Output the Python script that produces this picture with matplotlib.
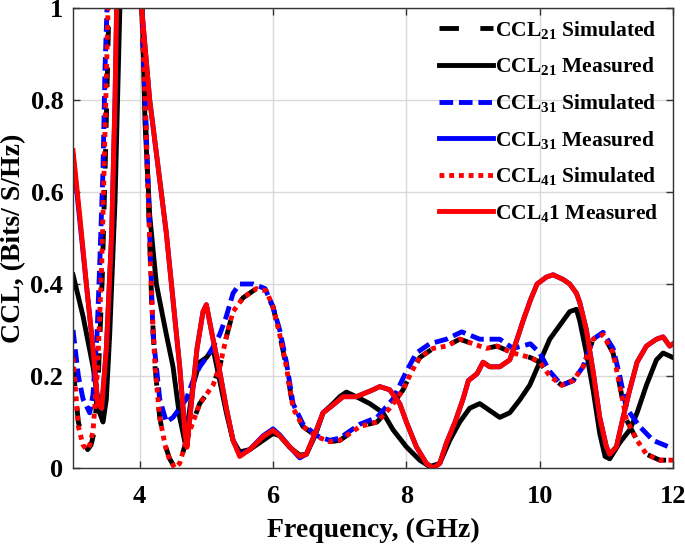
import matplotlib
matplotlib.use("Agg")
import matplotlib.pyplot as plt

# CCL21 simulated (black dashed)
f_s21 = [3.0, 3.08, 3.15, 3.22, 3.27, 3.32, 3.38, 3.44, 3.49, 3.53, 3.57, 3.7, 3.9, 4.0, 4.03, 4.08,
         4.13, 4.18, 4.23, 4.3, 4.38, 4.45, 4.53, 4.6, 4.7, 4.8, 4.9, 5.1, 5.2, 5.3, 5.4, 5.55, 5.75,
         5.9, 6.0, 6.1, 6.2, 6.3, 6.45, 6.66, 6.85, 7.0, 7.3, 7.56, 7.75, 7.95, 8.08, 8.2, 8.4, 8.6,
         8.8, 9.0, 9.2, 9.36, 9.6, 9.86, 10.0, 10.15, 10.33, 10.5, 10.65, 10.8, 10.95, 11.1, 11.2,
         11.3, 11.46, 11.6, 11.8, 12.0]
c_s21 = [0.22, 0.1, 0.06, 0.04, 0.05, 0.08, 0.2, 0.42, 0.7, 0.95, 1.2, 1.5, 1.5, 1.2, 1.0, 0.8,
         0.58, 0.36, 0.22, 0.11, 0.05, 0.02, 0.0, 0.01, 0.06, 0.1, 0.14, 0.18, 0.22, 0.285, 0.34,
         0.37, 0.39, 0.38, 0.35, 0.29, 0.22, 0.13, 0.09, 0.068, 0.057, 0.06, 0.09, 0.1, 0.13, 0.17,
         0.21, 0.24, 0.26, 0.265, 0.28, 0.27, 0.26, 0.265, 0.25, 0.24, 0.23, 0.2, 0.18, 0.19, 0.22,
         0.28, 0.29, 0.25, 0.18, 0.105, 0.06, 0.03, 0.017, 0.017]

# CCL21 measured (black solid)
f_m21 = [3.0, 3.15, 3.3, 3.4, 3.45, 3.5, 3.55, 3.63, 3.68, 3.72, 3.8, 3.95, 4.02, 4.08, 4.15, 4.25,
         4.4, 4.5, 4.6, 4.68, 4.8, 4.9, 5.0, 5.1, 5.2, 5.3, 5.4, 5.5, 5.65, 5.8, 6.0, 6.1, 6.25,
         6.4, 6.5, 6.63, 6.75, 6.9, 7.0, 7.1, 7.25, 7.45, 7.65, 7.8, 8.0, 8.2, 8.35, 8.5, 8.65, 8.8,
         8.95, 9.1, 9.25, 9.4, 9.55, 9.7, 9.85, 10.0, 10.15, 10.3, 10.45, 10.55, 10.6, 10.7, 10.8,
         10.9, 10.98, 11.05, 11.2, 11.35, 11.46, 11.6, 11.75, 11.85, 12.0]
c_m21 = [0.42, 0.33, 0.22, 0.12, 0.1, 0.15, 0.29, 0.58, 0.87, 1.1, 1.5, 1.5, 1.1, 0.75, 0.55, 0.4,
         0.29, 0.22, 0.11, 0.055, 0.18, 0.23, 0.24, 0.26, 0.19, 0.12, 0.06, 0.035, 0.04, 0.055,
         0.075, 0.07, 0.045, 0.028, 0.03, 0.07, 0.12, 0.14, 0.155, 0.165, 0.155, 0.14, 0.12, 0.083,
         0.046, 0.017, 0.003, 0.01, 0.06, 0.1, 0.13, 0.14, 0.125, 0.11, 0.12, 0.148, 0.18, 0.23,
         0.28, 0.31, 0.34, 0.345, 0.32, 0.25, 0.17, 0.075, 0.025, 0.02, 0.055, 0.083, 0.12, 0.18,
         0.235, 0.25, 0.24]

# CCL31 simulated (blue dashed)
f_s31 = [3.0, 3.08, 3.15, 3.25, 3.3, 3.36, 3.4, 3.45, 3.48, 3.51, 3.55, 3.7, 3.9, 4.0, 4.03, 4.08,
         4.13, 4.2, 4.3, 4.4, 4.5, 4.6, 4.7, 4.8, 4.9, 5.05, 5.2, 5.3, 5.4, 5.5, 5.7, 5.88, 6.0,
         6.1, 6.2, 6.3, 6.45, 6.66, 6.85, 7.0, 7.3, 7.56, 7.8, 8.0, 8.15, 8.35, 8.6, 8.83, 9.1, 9.4,
         9.6, 9.86, 10.0, 10.15, 10.33, 10.5, 10.65, 10.8, 10.95, 11.1, 11.2, 11.3, 11.5, 11.7,
         11.95, 12.0]
c_s31 = [0.3, 0.2, 0.15, 0.12, 0.16, 0.29, 0.44, 0.65, 0.87, 1.0, 1.2, 1.5, 1.5, 1.2, 1.0, 0.81,
         0.6, 0.29, 0.15, 0.1, 0.11, 0.13, 0.15, 0.19, 0.22, 0.25, 0.29, 0.33, 0.38, 0.4, 0.4,
         0.39, 0.35, 0.3, 0.23, 0.14, 0.095, 0.07, 0.06, 0.065, 0.095, 0.11, 0.15, 0.21, 0.25,
         0.27, 0.28, 0.296, 0.28, 0.28, 0.26, 0.27, 0.25, 0.21, 0.18, 0.19, 0.22, 0.28, 0.295,
         0.26, 0.2, 0.13, 0.09, 0.06, 0.045, 0.045]

# CCL31 measured (blue solid, mostly under the red one)
f_m31 = [3.0, 3.1, 3.2, 3.3, 3.37, 3.43, 3.5, 3.58, 3.63, 3.66, 3.75, 3.95, 4.03, 4.15, 4.28, 4.4,
         4.5, 4.6, 4.68, 4.71, 4.76, 4.86, 4.95, 5.0, 5.1, 5.2, 5.3, 5.4, 5.5, 5.65, 5.85, 6.0,
         6.1, 6.25, 6.4, 6.5, 6.63, 6.75, 6.9, 7.05, 7.25, 7.5, 7.6, 7.75, 7.9, 8.0, 8.15, 8.3,
         8.4, 8.5, 8.6, 8.73, 8.85, 8.93, 9.06, 9.15, 9.25, 9.4, 9.55, 9.66, 9.75, 9.86, 9.96,
         10.1, 10.2, 10.35, 10.45, 10.55, 10.6, 10.7, 10.8, 10.9, 11.0, 11.05, 11.15, 11.25, 11.35,
         11.46, 11.6, 11.75, 11.85, 11.95, 12.0]
c_m31 = [0.68, 0.54, 0.4, 0.26, 0.14, 0.13, 0.26, 0.51, 0.8, 1.05, 1.5, 1.5, 1.0, 0.8, 0.65, 0.51,
         0.365, 0.22, 0.08, 0.05, 0.12, 0.26, 0.34, 0.355, 0.28, 0.21, 0.13, 0.06, 0.028, 0.04,
         0.07, 0.085, 0.072, 0.046, 0.022, 0.03, 0.075, 0.12, 0.137, 0.155, 0.155, 0.17, 0.177,
         0.17, 0.14, 0.1, 0.046, 0.01, 0.0, 0.01, 0.054, 0.1, 0.15, 0.19, 0.205, 0.23, 0.22, 0.22,
         0.235, 0.28, 0.32, 0.365, 0.4, 0.415, 0.42, 0.41, 0.4, 0.38, 0.36, 0.3, 0.21, 0.11, 0.046,
         0.03, 0.046, 0.11, 0.17, 0.23, 0.265, 0.28, 0.285, 0.265, 0.27]

# CCL41 simulated (red dotted)
f_s41 = [3.0, 3.08, 3.15, 3.2, 3.25, 3.3, 3.37, 3.43, 3.48, 3.52, 3.56, 3.7, 3.9, 4.0, 4.03, 4.08,
         4.13, 4.18, 4.23, 4.3, 4.38, 4.45, 4.53, 4.6, 4.7, 4.8, 4.9, 5.1, 5.2, 5.3, 5.4, 5.55,
         5.75, 5.9, 6.0, 6.1, 6.2, 6.3, 6.45, 6.66, 6.85, 7.0, 7.3, 7.56, 7.75, 7.95, 8.08, 8.2,
         8.4, 8.6, 8.8, 9.0, 9.2, 9.36, 9.6, 9.86, 10.0, 10.15, 10.33, 10.5, 10.65, 10.8, 10.95,
         11.1, 11.2, 11.3, 11.46, 11.6, 11.8, 12.0]
c_s41 = [0.24, 0.09, 0.05, 0.04, 0.05, 0.08, 0.22, 0.44, 0.73, 0.97, 1.2, 1.5, 1.5, 1.2, 1.0, 0.8,
         0.58, 0.365, 0.22, 0.11, 0.05, 0.017, 0.0, 0.01, 0.06, 0.1, 0.14, 0.18, 0.22, 0.285, 0.34,
         0.37, 0.39, 0.385, 0.35, 0.29, 0.22, 0.13, 0.09, 0.068, 0.057, 0.06, 0.09, 0.1, 0.13, 0.17,
         0.21, 0.24, 0.26, 0.265, 0.28, 0.27, 0.26, 0.265, 0.25, 0.24, 0.23, 0.2, 0.18, 0.19, 0.22,
         0.28, 0.29, 0.25, 0.18, 0.105, 0.06, 0.03, 0.017, 0.017]

# CCL41 measured (red solid)
f_m41 = [3.0, 3.1, 3.2, 3.3, 3.37, 3.43, 3.5, 3.58, 3.63, 3.66, 3.75, 3.95, 4.03, 4.15, 4.28, 4.4,
         4.5, 4.6, 4.68, 4.71, 4.76, 4.86, 4.95, 5.0, 5.1, 5.2, 5.3, 5.4, 5.5, 5.65, 5.85, 6.0,
         6.1, 6.25, 6.4, 6.5, 6.63, 6.75, 6.9, 7.05, 7.25, 7.5, 7.6, 7.75, 7.9, 8.0, 8.15, 8.3,
         8.4, 8.5, 8.6, 8.73, 8.85, 8.93, 9.06, 9.15, 9.25, 9.4, 9.55, 9.66, 9.75, 9.86, 9.96,
         10.1, 10.2, 10.35, 10.45, 10.55, 10.6, 10.7, 10.8, 10.9, 11.0, 11.05, 11.15, 11.25, 11.35,
         11.46, 11.6, 11.75, 11.85, 11.95, 12.0]
c_m41 = [0.69, 0.55, 0.4, 0.26, 0.14, 0.13, 0.26, 0.51, 0.8, 1.05, 1.5, 1.5, 1.0, 0.8, 0.65, 0.51,
         0.365, 0.22, 0.075, 0.045, 0.12, 0.26, 0.34, 0.355, 0.28, 0.21, 0.13, 0.06, 0.025, 0.04,
         0.068, 0.082, 0.07, 0.046, 0.025, 0.03, 0.075, 0.12, 0.137, 0.155, 0.155, 0.17, 0.177,
         0.17, 0.14, 0.1, 0.046, 0.01, 0.0, 0.01, 0.054, 0.1, 0.15, 0.19, 0.205, 0.23, 0.22, 0.22,
         0.235, 0.28, 0.32, 0.365, 0.4, 0.415, 0.42, 0.41, 0.4, 0.38, 0.36, 0.3, 0.21, 0.11, 0.046,
         0.03, 0.046, 0.11, 0.17, 0.23, 0.265, 0.28, 0.285, 0.265, 0.27]

labels = ["CCL$_{21}$ Simulated", "CCL$_{21}$ Measured", "CCL$_{31}$ Simulated",
          "CCL$_{31}$ Measured", "CCL$_{41}$ Simulated", "CCL$_{4}$1 Measured"]
x_ticks = [4, 6, 8, 10, 12]
y_ticks = [0, 0.2, 0.4, 0.6, 0.8, 1]
y_ticklabels = ["0", "0.2", "0.4", "0.6", "0.8", "1"]

plt.rcParams["font.family"] = "Liberation Serif"
plt.rcParams["font.weight"] = "bold"
plt.rcParams["mathtext.fontset"] = "custom"
plt.rcParams["mathtext.rm"] = "Liberation Serif:bold"
plt.rcParams["mathtext.default"] = "rm"

fig = plt.figure(figsize=(6.85, 5.45), dpi=100)
ax = fig.add_axes([0.1066, 0.1413, 0.876, 0.844])

lw = 3.5
ax.plot(f_s21, c_s21, color="black", lw=lw, ls=(0, (4.0, 4.4)), label=labels[0])
ax.plot(f_m21, c_m21, color="black", lw=lw, ls="-", label=labels[1])
ax.plot(f_s31, c_s31, color="blue", lw=lw, ls=(0, (2.8, 1.2)), label=labels[2])
ax.plot(f_m31, c_m31, color="blue", lw=lw, ls="-", label=labels[3])
ax.plot(f_s41, c_s41, color="red", lw=lw, ls=(0, (1.0, 1.0)), label=labels[4])
ax.plot(f_m41, c_m41, color="red", lw=lw, ls="-", label=labels[5])

ax.set_xlim(3, 12)
ax.set_ylim(0, 1)
ax.set_xticks(x_ticks)
ax.set_yticks(y_ticks)
ax.set_yticklabels(y_ticklabels)
ax.grid(True, color="#d9d9d9", lw=1)
ax.set_axisbelow(True)
ax.tick_params(direction="in", top=True, right=True, labelsize=19, length=5, width=1,
               color="#333333")
ax.tick_params(axis="x", pad=12)
ax.tick_params(axis="y", pad=7)
for s in ax.spines.values():
    s.set_color("#333333")
    s.set_linewidth(1)

ax.set_xlabel("Frequency, (GHz)", fontsize=20, fontweight="bold", labelpad=7)
ax.set_ylabel("CCL, (Bits/ S/Hz)", fontsize=20, fontweight="bold", labelpad=3)

leg = ax.legend(loc="upper right", bbox_to_anchor=(0.993, 1.0), frameon=False,
                fontsize=15.5, handlelength=2.5, handletextpad=0.1, labelspacing=0.68,
                borderaxespad=0.1)

fig.savefig("out.png", dpi=100)
